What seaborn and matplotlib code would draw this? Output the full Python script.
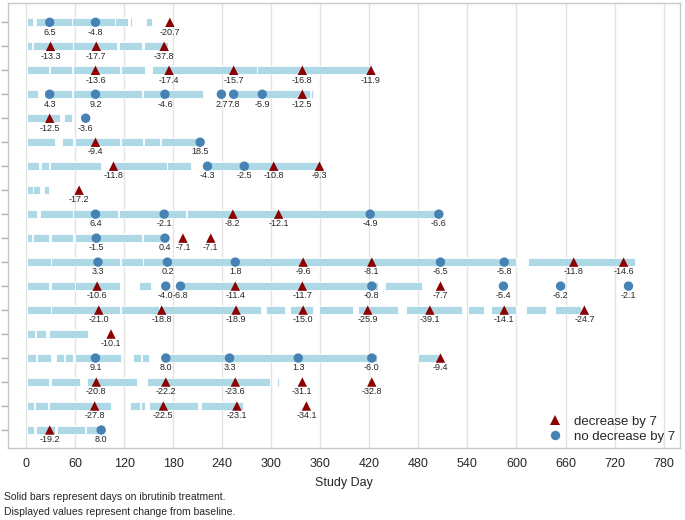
import numpy as np
import pandas as pd
import seaborn as sns
import matplotlib
matplotlib.use("Agg")
from matplotlib import pyplot as plt

# # Data: one entry per subject (row), top to bottom

# treatment segments (start day, end day)
segments = [
    [(1, 9), (12, 56), (56, 109), (109, 125), (127, 130), (147, 154)],
    [(1, 7), (8, 57), (58, 111), (114, 142), (144, 174)],
    [(1, 28), (29, 56), (57, 115), (116, 145), (154, 282), (283, 419)],
    [(1, 15), (22, 56), (57, 142), (143, 217), (254, 347), (349, 351)],
    [(1, 42), (47, 56)],
    [(1, 35), (44, 58), (60, 115), (116, 143), (144, 164), (165, 213)],
    [(1, 16), (18, 28), (29, 92), (107, 172), (173, 202), (222, 359)],
    [(1, 8), (9, 17), (22, 28)],
    [(1, 13), (17, 57), (58, 113), (114, 168), (168, 196), (197, 504)],
    [(1, 7), (8, 28), (30, 58), (60, 142), (143, 170)],
    [(1, 30), (31, 115), (116, 143), (143, 172), (172, 600), (614, 745)],
    [(1, 28), (31, 60), (60, 115), (138, 153), (189, 431), (439, 484)],
    [(1, 30), (31, 115), (116, 163), (163, 288), (294, 317), (323, 351),
     (358, 400), (406, 455), (465, 533), (541, 560), (569, 600), (612, 636), (647, 679)],
    [(1, 11), (12, 24), (28, 76)],
    [(1, 12), (14, 30), (37, 46), (48, 58), (60, 116), (131, 141), (142, 151),
     (171, 429), (480, 508)],
    [(1, 28), (30, 66), (75, 136), (148, 299), (307, 309)],
    [(1, 10), (11, 27), (28, 104), (127, 140), (141, 146), (150, 211), (214, 266)],
    [(1, 10), (12, 36), (38, 72), (73, 90)],
]

# assessment days and change from baseline
visit_days = [
    [29, 85, 176],
    [30, 86, 169],
    [85, 175, 254, 338, 422],
    [29, 85, 170, 239, 254, 289, 338],
    [29, 73],
    [85, 213],
    [107, 222, 267, 303, 359],
    [65],
    [85, 169, 253, 309, 421, 505],
    [86, 170, 192, 226],
    [88, 173, 256, 339, 423, 507, 585, 670, 731],
    [87, 171, 189, 256, 338, 423, 507, 584, 654, 737],
    [89, 166, 257, 339, 418, 494, 585, 683],
    [104],
    [85, 171, 249, 333, 423, 507],
    [86, 171, 256, 338, 423],
    [84, 168, 258, 343],
    [29, 92],
]
changes = [
    [6.5, -4.8, -20.7],
    [-13.3, -17.7, -37.8],
    [-13.6, -17.4, -15.7, -16.8, -11.9],
    [4.3, 9.2, -4.6, 2.7, 7.8, -5.9, -12.5],
    [-12.5, -3.6],
    [-9.4, 18.5],
    [-11.8, -4.3, -2.5, -10.8, -9.3],
    [-17.2],
    [6.4, -2.1, -8.2, -12.1, -4.9, -6.6],
    [-1.5, 0.4, -7.1, -7.1],
    [3.3, 0.2, 1.8, -9.6, -8.1, -6.5, -5.8, -11.8, -14.6],
    [-10.6, -4.0, -6.8, -11.4, -11.7, -0.8, -7.7, -5.4, -6.2, -2.1],
    [-21.0, -18.8, -18.9, -15.0, -25.9, -39.1, -14.1, -24.7],
    [-10.1],
    [9.1, 8.0, 3.3, 1.3, -6.0, -9.4],
    [-20.8, -22.2, -23.6, -31.1, -32.8],
    [-27.8, -22.5, -23.1, -34.1],
    [-19.2, 8.0],
]

day_ticks = list(range(0, 781, 60))

# build long tables
seg_rows = []
for i, segs in enumerate(segments):
    for s, e in segs:
        seg_rows.append({"row": i + 1, "start": s, "length": e - s})
seg_df = pd.DataFrame(seg_rows)

vis_rows = []
for i, (days, vals) in enumerate(zip(visit_days, changes)):
    for d, v in zip(days, vals):
        vis_rows.append({"row": i + 1, "day": d, "change": v,
                         "status": "decrease by 7" if v <= -7 else "no decrease by 7"})
vis_df = pd.DataFrame(vis_rows)

# # Plot

sns.set_style("white")
plt.rcParams["font.family"] = ["Liberation Sans", "DejaVu Sans"]

fig = plt.figure(figsize=(6.85, 5.2), dpi=100)
ax = fig.add_axes([0.0117, 0.1385, 0.9810, 0.8555])

ax.set_axisbelow(True)
ax.grid(axis="x", color="#e3e3e3", linewidth=1)

# treatment bars
ax.barh(seg_df["row"], seg_df["length"], left=seg_df["start"], height=0.32,
        color="#add8e6", edgecolor="white", linewidth=0.6, zorder=2)

# assessments
sns.scatterplot(data=vis_df, x="day", y="row", hue="status", style="status",
                hue_order=["decrease by 7", "no decrease by 7"],
                style_order=["decrease by 7", "no decrease by 7"],
                palette={"decrease by 7": "#8b0000", "no decrease by 7": "#4682b4"},
                markers={"decrease by 7": "^", "no decrease by 7": "o"},
                s=46, linewidth=0, ax=ax, zorder=3)

for _, r in vis_df.iterrows():
    ax.annotate("{0:.1f}".format(r["change"]), (r["day"], r["row"]),
                xytext=(0, -3.8), textcoords="offset points",
                ha="center", va="top", fontsize=6.5, zorder=4)

ax.set_xlim(-22, 800)
ax.set_ylim(18.75, 0.2)
ax.set_xticks(day_ticks)
ax.set_yticks(range(1, 19))
ax.set_yticklabels([])
ax.tick_params(axis="y", left=True, length=5, color="#b0b0b0", width=1)
ax.tick_params(axis="x", bottom=False, labelsize=9, pad=4)
ax.set_xlabel("Study Day", fontsize=9, labelpad=5)
ax.set_ylabel("")
for sp in ax.spines.values():
    sp.set_color("#c8c8c8")
    sp.set_linewidth(1)

leg = ax.legend(loc="lower right", frameon=False, fontsize=9.5, handletextpad=0.4,
                labelspacing=0.2, borderaxespad=0.1, borderpad=0.3, markerscale=1.0)

fig.text(0.006, 0.045, "Solid bars represent days on ibrutinib treatment.", fontsize=7.5, va="center")
fig.text(0.006, 0.016, "Displayed values represent change from baseline.", fontsize=7.5, va="center")

fig.savefig("out.png", dpi=100)
